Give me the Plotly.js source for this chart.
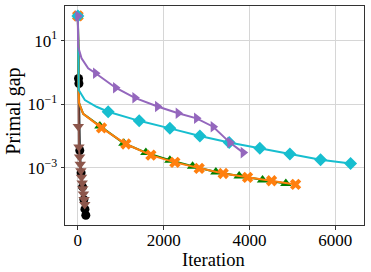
<!DOCTYPE html>
<html>
<head>
<meta charset="utf-8">
<script src="https://cdn.plot.ly/plotly-3.0.1.min.js"></script>
<style>html,body{margin:0;padding:0;background:#fff;}#chart{width:371px;height:272px;}</style>
</head>
<body>
<div id="chart"></div>
<script>
// Marked points (markers drawn) and extra curve points (line only) per series
const purpleX = [0, 413, 879, 1329, 1858, 2338, 2767, 3154, 3543, 3853];
const purpleY = [60, 0.94, 0.33, 0.159, 0.085, 0.052, 0.036, 0.0196, 0.0062, 0.0030];
const purpleCurveX = [5, 86, 240];
const purpleCurveY = [6.5, 2.8, 1.35];

const cyanX = [0, 706, 1429, 2145, 2844, 3527, 4242, 4942, 5657, 6357];
const cyanY = [60, 0.058, 0.030, 0.0174, 0.0100, 0.0062, 0.0041, 0.0027, 0.0018, 0.00137];
const cyanCurveX = [20, 163, 436];
const cyanCurveY = [0.28, 0.135, 0.083];

const orangeX = [0, 552, 1119, 1702, 2261, 2828, 3387, 3956, 4515, 5075];
const orangeY = [60, 0.018, 0.0056, 0.0025, 0.00148, 0.00096, 0.00066, 0.0005, 0.00039, 0.0003];
const orangeCurveX = [25, 124];
const orangeCurveY = [0.11, 0.05];

const greenX = [0, 513, 1072, 1585, 2145, 2674, 3217, 3760, 4305, 4848];
const greenY = [60, 0.0205, 0.0059, 0.0030, 0.00174, 0.00112, 0.00074, 0.00055, 0.00041, 0.00032];
const greenCurveX = [25, 124];
const greenCurveY = [0.11, 0.05];

const blackX = [15, 25, 45, 75, 110, 140, 165, 185];
const blackY = [0.65, 0.45, 0.0035, 0.0007, 0.00025, 0.0001, 0.00005, 0.000032];
const blackCurveX = [0];
const blackCurveY = [60];

const brownX = [0, 10, 25, 40, 55, 70, 85, 100, 115, 130, 145, 160];
const brownY = [60, 0.02, 0.0045, 0.0022, 0.0013, 0.0008, 0.0005, 0.00033, 0.00022, 0.00015, 0.0001, 0.00007];

const xTicks = [0, 2000, 4000, 6000];
const yTickVals = [10, 0.1, 0.001];
const yTickText = ['10<sup>1</sup>', '10<sup>−1</sup>', '10<sup>−3</sup>'];
const xTitle = 'Iteration';
const yTitle = 'Primal gap';

function merge(mx, my, cx, cy) {
  const pts = [];
  mx.forEach((x, i) => pts.push([x, my[i]]));
  (cx || []).forEach((x, i) => pts.push([x, cy[i]]));
  pts.sort((a, b) => a[0] - b[0] || b[1] - a[1]);
  return {x: pts.map(p => p[0]), y: pts.map(p => p[1])};
}

function series(mx, my, cx, cy, color, symbol, size) {
  const l = merge(mx, my, cx, cy);
  return [
    {x: l.x, y: l.y, mode: 'lines', line: {color: color, width: 2}, hoverinfo: 'skip', showlegend: false},
    {x: mx, y: my, mode: 'markers', marker: {color: color, symbol: symbol, size: size}, showlegend: false}
  ];
}

const traces = [].concat(
  series(blackX, blackY, blackCurveX, blackCurveY, '#000000', 'circle', 9),
  series(brownX, brownY, null, null, '#8c564b', 'triangle-down', 10),
  series(greenX, greenY, greenCurveX, greenCurveY, '#008000', 'triangle-up', 10),
  series(orangeX, orangeY, orangeCurveX, orangeCurveY, '#ff7f0e', 'x', 10),
  series(cyanX, cyanY, cyanCurveX, cyanCurveY, '#17becf', 'diamond', 10),
  series(purpleX, purpleY, purpleCurveX, purpleCurveY, '#9467bd', 'triangle-right', 10)
);

const font = 'Liberation Serif, Times New Roman, serif';
const layout = {
  width: 371, height: 272,
  margin: {l: 65, r: 7, t: 6, b: 47},
  paper_bgcolor: '#fff', plot_bgcolor: '#fff',
  font: {family: font, size: 17, color: '#000'},
  showlegend: false,
  xaxis: {
    range: [-300, 6670],
    tickvals: xTicks, ticktext: xTicks.map(String),
    showgrid: true, gridcolor: '#d6d6d6', gridwidth: 1,
    zeroline: false, showline: true, mirror: true, linecolor: '#333', linewidth: 1,
    ticks: 'outside', ticklen: 3.5, tickcolor: '#333',
    ticklabelstandoff: -4,
    tickfont: {family: font, size: 17}
  },
  yaxis: {
    type: 'log', range: [-4.8, 2.09],
    tickvals: yTickVals, ticktext: yTickText,
    showgrid: true, gridcolor: '#d6d6d6', gridwidth: 1,
    zeroline: false, showline: true, mirror: true, linecolor: '#333', linewidth: 1,
    ticks: 'outside', ticklen: 3.5, tickcolor: '#333',
    tickfont: {family: font, size: 17}
  },
  annotations: [
    {text: xTitle, xref: 'paper', yref: 'paper', x: 0.495, y: -0.16,
     xanchor: 'center', yanchor: 'middle', showarrow: false,
     font: {family: font, size: 18.5, color: '#000'}},
    {text: yTitle, xref: 'paper', yref: 'paper', x: -0.172, y: 0.52,
     xanchor: 'center', yanchor: 'middle', showarrow: false, textangle: -90,
     font: {family: font, size: 20, color: '#000'}}
  ]
};

Plotly.newPlot('chart', traces, layout, {staticPlot: true, displayModeBar: false});
</script>
</body>
</html>
